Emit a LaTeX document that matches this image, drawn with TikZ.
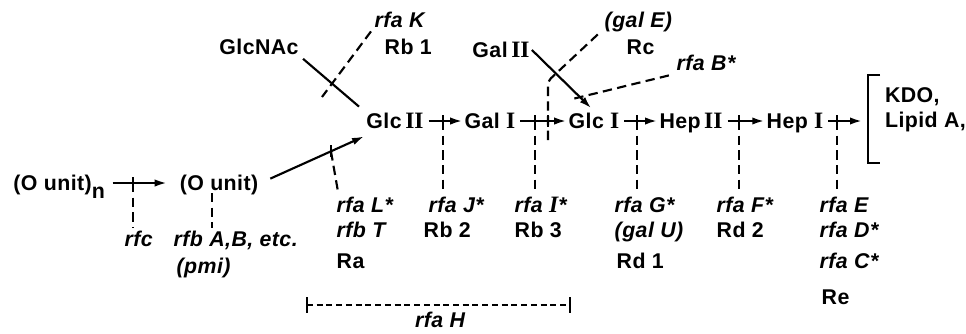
\documentclass[tikz,border=0pt]{standalone}
\usepackage{fontspec}
\setmainfont[LetterSpace=2]{Liberation Sans}
\newfontfamily\numfont[Scale=1.1]{Liberation Serif}
\usetikzlibrary{arrows.meta,calc}
\newcommand{\romn}[1]{{\numfont\bfseries #1}}
\begin{document}
\begin{tikzpicture}[x=.75pt,y=-.75pt,line width=1.6pt,
    sugar/.style={font=\fontsize{16}{19}\selectfont\bfseries,inner sep=1pt,
      text height=11.5pt,text depth=0pt},
    gene/.style={sugar,font=\fontsize{16}{19}\selectfont\bfseries\itshape,
      inner sep=2pt,anchor=west},
    type/.style={sugar,inner sep=2pt,anchor=west},
    arr/.style={-{Latex[length=9pt,width=5.5pt]}},
    dsh/.style={dash pattern=on 7pt off 4pt},
    dshf/.style={dash pattern=on 4.5pt off 2.8pt}]
  \useasboundingbox (0,0) rectangle (966,333);
  % chain
  \node[sugar,anchor=west] (ounitn) at (11,183) {(O unit)\raisebox{-6pt}{n}};
  \node[sugar] (ounit) at (219,183) {(O unit)};
  \node[sugar] (glcII) at (395,121) {Glc\,\romn{II}};
  \node[sugar] (galI) at (490,121) {Gal \romn{I}};
  \node[sugar] (glcI) at (594,121) {Glc \romn{I}};
  \node[sugar] (hepII) at (691,121) {Hep\,\romn{II}};
  \node[sugar] (hepI) at (795,121) {Hep \romn{I}};
  \node[font=\fontsize{16}{19}\selectfont\bfseries,anchor=west,align=left,inner sep=0]
    (lipid) at (884,110) {KDO,\\Lipid A,};
  \node[sugar] (glcnac) at (259,47) {GlcNAc};
  \node[sugar] (galII) at (501,50) {Gal\,\romn{II}};
  \coordinate (brk) at (862,121);
  \draw[line width=2pt] (880,75) -- (868,75) -- (868,163) -- (880,163);

  \draw[arr,shorten <=4pt,shorten >=8pt] (ounitn) -- (ounit);
  \draw[arr,shorten <=8pt] (ounit.east) -- coordinate[pos=.68] (tL)
    ([yshift=-4pt]glcII.south west);
  \draw[arr,shorten <=2pt] (glcII) -- (galI);
  \draw[arr,shorten <=2pt] (galI) -- (glcI);
  \draw[arr,shorten <=2pt] (glcI) -- (hepII);
  \draw[arr,shorten <=2pt] (hepII) -- (hepI);
  \draw[arr,shorten <=2pt] (hepI) -- (brk);
  \draw[arr,shorten >=3pt] (galII.east) -- coordinate[pos=.78] (tB) (glcI.north);
  \draw[shorten <=2pt,shorten >=5pt] (glcnac.south east) -- (glcII.north west);

  % gene labels
  \node[gene] (lrfc) at (121,239) {rfc};
  \node[gene] (lrfb) at (170,239) {rfb A,B, etc.};
  \node[gene] (lpmi) at (173,266) {(pmi)};
  \node[gene] (lrfaL) at (333,205) {rfa L*};
  \node[gene] (lrfbT) at (333,230) {rfb T};
  \node[type] (lRa) at (333,261) {Ra};
  \node[gene] (lrfaJ) at (425,205) {rfa J*};
  \node[type] (lRb2) at (420,230) {Rb 2};
  \node[gene] (lrfaI) at (511,205) {rfa \romn{I}*};
  \node[type] (lRb3) at (511,230) {Rb 3};
  \node[gene] (lrfaG) at (611,205) {rfa G*};
  \node[gene] (lgalU) at (611,230) {(gal U)};
  \node[type] (lRd1) at (613,261) {Rd 1};
  \node[gene] (lrfaF) at (713,205) {rfa F*};
  \node[type] (lRd2) at (713,230) {Rd 2};
  \node[gene] (lrfaE) at (816,205) {rfa E};
  \node[gene] (lrfaD) at (816,230) {rfa D*};
  \node[gene] (lrfaC) at (816,261) {rfa C*};
  \node[type] (lRe) at (818,297) {Re};
  \node[gene] (lrfaK) at (371,20) {rfa K};
  \node[type] (lRb1) at (381,47) {Rb 1};
  \node[gene] (lgalE) at (601,20) {(gal E)};
  \node[type] (lRc) at (623,47) {Rc};
  \node[gene] (lrfaB) at (673,63) {rfa B*};
  \node[gene,anchor=center] (lrfaH) at (440,320) {rfa H};

  % cut sites
  \coordinate (tc) at (133,183);
  \coordinate (tJ) at (443,121);
  \coordinate (tI) at (535,121);
  \coordinate (tE2) at (548,121);
  \coordinate (tG) at (637,121);
  \coordinate (tF) at (739,121);
  \coordinate (tE) at (837,121);
  \coordinate (kend) at (322,97);
  \coordinate (hL) at (307,305);
  \coordinate (hR) at (570,305);
  \foreach \t in {tc,tL,tJ,tI,tE2,tG,tF,tE}
    \draw ($(\t)+(0,-6)$) -- ($(\t)+(0,6)$);
  \foreach \t/\l in {tc/lrfc,tJ/lrfaJ,tI/lrfaI,tG/lrfaG,tF/lrfaF,tE/lrfaE}
    \draw[dsh] (\t) -- (\t |- \l.north);
  \draw[dsh] ([xshift=-5pt]ounit.south) -- ([xshift=-5pt]ounit.south |- lrfb.north);
  \draw[dsh] (tL) -- ([xshift=4pt]lrfaL.north west);
  \draw[dsh,rounded corners=3pt] ($(tE2)+(0,19)$) -- ($(tE2)+(0,-40)$)
    -- (lgalE.south west);
  \draw[dsh] ($(tB)+(-6,1)$) -- (lrfaB.south west);
  \draw[dsh] (lrfaK.south west) -- (kend);
  \draw[dshf] (hL) -- (hR);
  \foreach \t in {hL,hR}
    \draw ($(\t)+(0,-8)$) -- ($(\t)+(0,8)$);
\end{tikzpicture}
\end{document}
